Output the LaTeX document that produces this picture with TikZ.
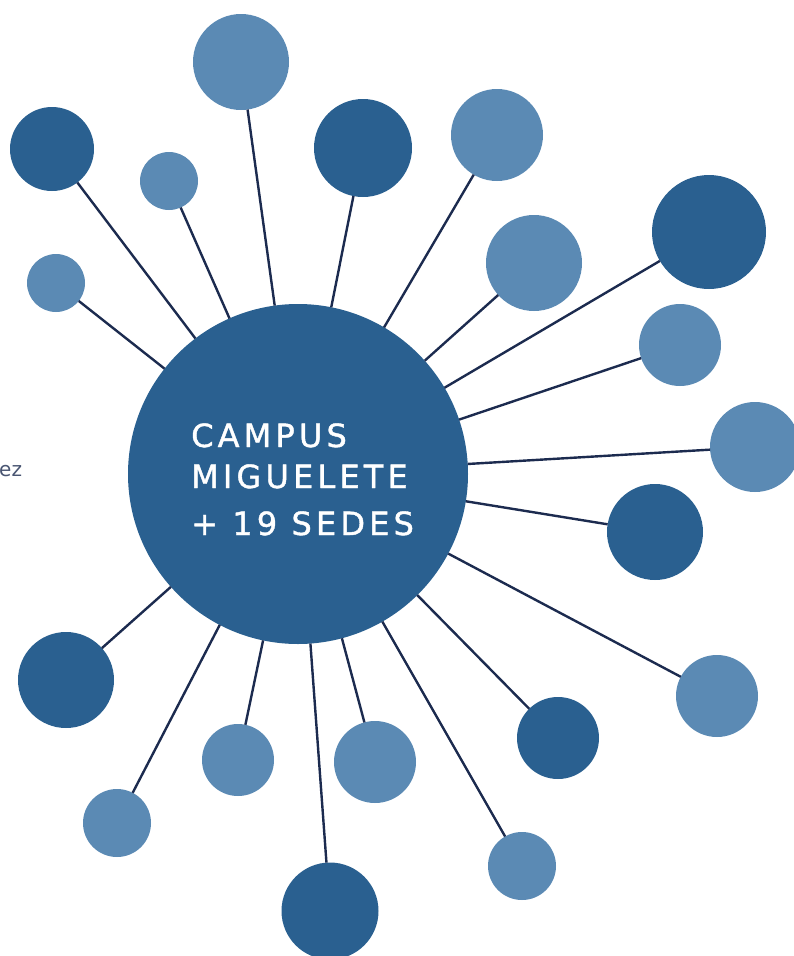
\documentclass[tikz,border=0pt]{standalone}
\usepackage{fontspec}
\newfontfamily\hubfont[LetterSpace=13,FakeBold=1.2]{DejaVu Sans}
\newfontfamily\sidefont{DejaVu Sans}
\definecolor{darkblue}{HTML}{2A6090}
\definecolor{lightblue}{HTML}{5B8AB4}
\definecolor{linkblue}{HTML}{1C2B4F}
\tikzset{
    sede/.style={circle,inner sep=0pt,outer sep=0pt,minimum size=#1},
    darksede/.style={sede=#1,fill=darkblue},
    lightsede/.style={sede=#1,fill=lightblue},
    link/.style={draw=linkblue,line width=2.4pt},
    hubtext/.style={anchor=base west,inner sep=0pt,text=white,font=\hubfont\fontsize{32}{36}\selectfont}
}
\begin{document}
\begin{tikzpicture}[x=1pt,y=-1pt]
        \useasboundingbox (0,0) rectangle (794,956);
        \node[sede=340,fill=darkblue] (hub) at (298,474) {};

        % top row
        \node[lightsede=96] (s1) at (241,62) {};
        \node[darksede=84] (s2) at (52,149) {};
        \node[lightsede=58] (s3) at (169,181) {};
        \node[darksede=98] (s4) at (363,148) {};
        \node[lightsede=92] (s5) at (497,135) {};
        \node[lightsede=58] (s6) at (56,283) {};
        \node[lightsede=96] (s7) at (534,263) {};
        \node[darksede=114] (s8) at (709,232) {};
        % right side
        \node[lightsede=82] (s9) at (680,345) {};
        \node[lightsede=90] (s10) at (755,447) {};
        \node[darksede=96] (s11) at (655,532) {};
        \node[lightsede=82] (s12) at (717,696) {};
        % bottom row
        \node[darksede=96] (s13) at (66,680) {};
        \node[darksede=82] (s14) at (558,738) {};
        \node[lightsede=72] (s15) at (238,760) {};
        \node[lightsede=82] (s16) at (375,762) {};
        \node[lightsede=68] (s17) at (117,823) {};
        \node[lightsede=68] (s18) at (522,866) {};
        \node[darksede=97] (s19) at (330,911) {};

        \draw[link] (hub) -- (s1);
        \draw[link] (hub) -- (s2);
        \draw[link] (hub) -- (s3);
        \draw[link] (hub) -- (s4);
        \draw[link] (hub) -- (s5);
        \draw[link] (hub) -- (s6);
        \draw[link] (hub) -- (s7);
        \draw[link] (hub) -- (s8);
        \draw[link] (hub) -- (s9);
        \draw[link] (hub) -- (s10);
        \draw[link] (hub) -- (s11);
        \draw[link] (hub) -- (s12);
        \draw[link] (hub) -- (s13);
        \draw[link] (hub) -- (s14);
        \draw[link] (hub) -- (s15);
        \draw[link] (hub) -- (s16);
        \draw[link] (hub) -- (s17);
        \draw[link] (hub) -- (s18);
        \draw[link] (hub) -- (s19);

        \node[hubtext] (campus) at (191,447) {CAMPUS};
        \node[hubtext] (miguelete) at (191,488) {MIGUELETE};
        \node[hubtext] (sedes) at (191,535) {+ 19 SEDES};

        \node[anchor=base west,inner sep=0pt,text=linkblue!80,font=\sidefont\fontsize{20}{22}\selectfont] (cut) at (-1,476) {ez};
\end{tikzpicture}
\end{document}
